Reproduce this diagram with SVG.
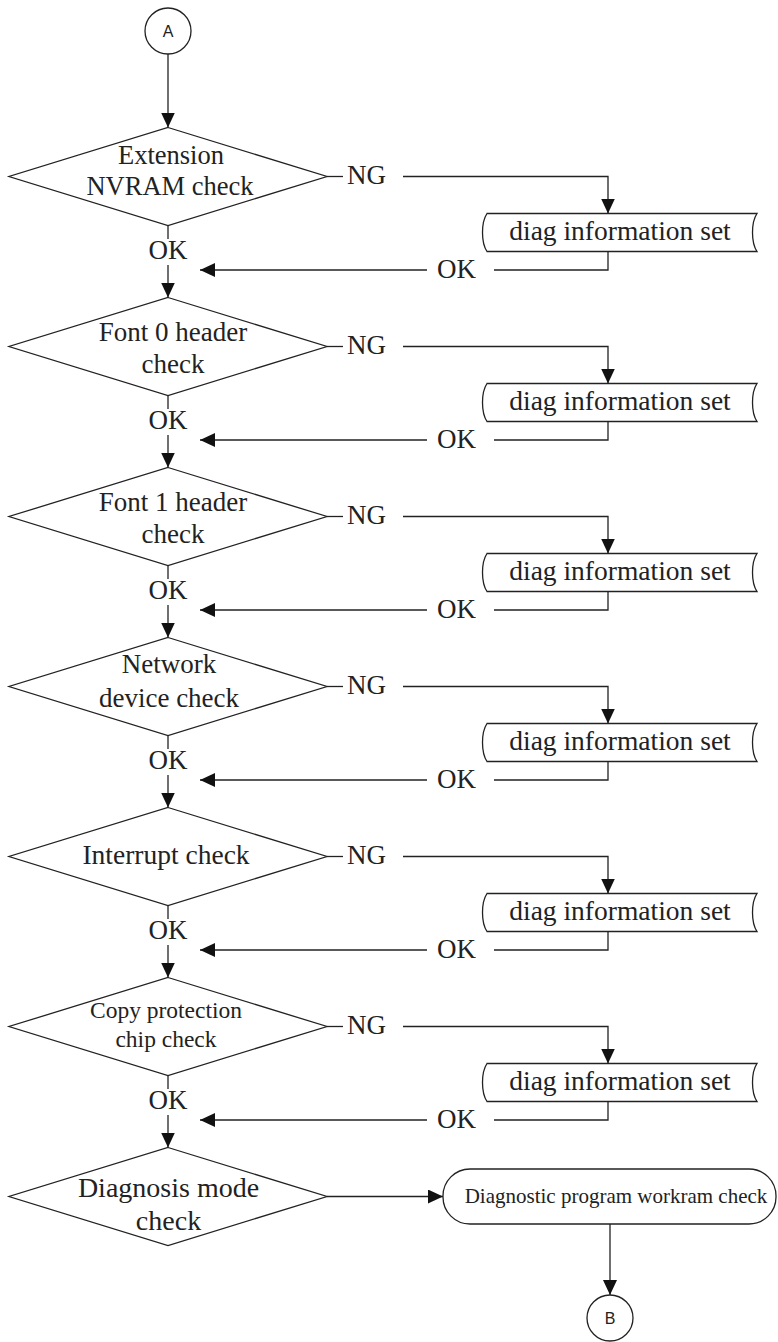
<svg xmlns="http://www.w3.org/2000/svg" width="778" height="1342" viewBox="0 0 778 1342">
<style>
.s{fill:none;stroke:#222;stroke-width:1.3}
.n{fill:#fff;stroke:#222;stroke-width:1.3}
.t{font-family:"Liberation Serif","Times New Roman",serif;fill:#222;text-anchor:middle}
.l{font-family:"Liberation Serif","Times New Roman",serif;font-size:27px;fill:#222}
.c{font-family:"Liberation Sans",Arial,sans-serif;font-size:16px;fill:#222;text-anchor:middle}
</style>
<defs>
<marker id="ar" markerUnits="userSpaceOnUse" markerWidth="16" markerHeight="14" refX="15" refY="7" orient="auto"><path d="M0,0 L15,7 L0,14 Z" fill="#111"/></marker>
</defs>
<rect width="778" height="1342" fill="#fff"/>
<g id="connectors">
<path class="s" d="M168,54 V127.5" marker-end="url(#ar)"/>
<path class="s" d="M327,176.5 H343"/>
<path class="s" d="M403,176.5 H608 V213.5" marker-end="url(#ar)"/>
<path class="s" d="M608,251.5 V270 H494"/>
<path class="s" d="M427,270 H200" marker-end="url(#ar)"/>
<path class="s" d="M168,225.5 V239"/>
<path class="s" d="M168,265 V297.5" marker-end="url(#ar)"/>
<path class="s" d="M327,346.5 H343"/>
<path class="s" d="M403,346.5 H608 V383.5" marker-end="url(#ar)"/>
<path class="s" d="M608,421.5 V440 H494"/>
<path class="s" d="M427,440 H200" marker-end="url(#ar)"/>
<path class="s" d="M168,395.5 V409"/>
<path class="s" d="M168,435 V467.5" marker-end="url(#ar)"/>
<path class="s" d="M327,516.5 H343"/>
<path class="s" d="M403,516.5 H608 V553.5" marker-end="url(#ar)"/>
<path class="s" d="M608,591.5 V610 H494"/>
<path class="s" d="M427,610 H200" marker-end="url(#ar)"/>
<path class="s" d="M168,565.5 V579"/>
<path class="s" d="M168,605 V637.5" marker-end="url(#ar)"/>
<path class="s" d="M327,686.5 H343"/>
<path class="s" d="M403,686.5 H608 V723.5" marker-end="url(#ar)"/>
<path class="s" d="M608,761.5 V780 H494"/>
<path class="s" d="M427,780 H200" marker-end="url(#ar)"/>
<path class="s" d="M168,735.5 V749"/>
<path class="s" d="M168,775 V807.5" marker-end="url(#ar)"/>
<path class="s" d="M327,856.5 H343"/>
<path class="s" d="M403,856.5 H608 V893.5" marker-end="url(#ar)"/>
<path class="s" d="M608,931.5 V950 H494"/>
<path class="s" d="M427,950 H200" marker-end="url(#ar)"/>
<path class="s" d="M168,905.5 V919"/>
<path class="s" d="M168,945 V977.5" marker-end="url(#ar)"/>
<path class="s" d="M327,1026.5 H343"/>
<path class="s" d="M403,1026.5 H608 V1063.5" marker-end="url(#ar)"/>
<path class="s" d="M608,1101.5 V1120 H494"/>
<path class="s" d="M427,1120 H200" marker-end="url(#ar)"/>
<path class="s" d="M168,1075.5 V1089"/>
<path class="s" d="M168,1115 V1147.5" marker-end="url(#ar)"/>
<path class="s" d="M327,1196.5 H443" marker-end="url(#ar)"/>
<path class="s" d="M610,1224 V1295" marker-end="url(#ar)"/>
<text class="l" x="347" y="184">NG</text>
<text class="l" x="347" y="354">NG</text>
<text class="l" x="347" y="524">NG</text>
<text class="l" x="347" y="694">NG</text>
<text class="l" x="347" y="864">NG</text>
<text class="l" x="347" y="1034">NG</text>
<text class="l" x="437" y="278">OK</text>
<text class="l" x="437" y="448">OK</text>
<text class="l" x="437" y="618">OK</text>
<text class="l" x="437" y="788">OK</text>
<text class="l" x="437" y="958">OK</text>
<text class="l" x="437" y="1128">OK</text>
<text class="t" x="168" y="259" style="font-size:27px">OK</text>
<text class="t" x="168" y="429" style="font-size:27px">OK</text>
<text class="t" x="168" y="599" style="font-size:27px">OK</text>
<text class="t" x="168" y="769" style="font-size:27px">OK</text>
<text class="t" x="168" y="939" style="font-size:27px">OK</text>
<text class="t" x="168" y="1109" style="font-size:27px">OK</text>
</g>
<g id="startA"><circle class="n" cx="168" cy="31" r="23"/><text class="c" x="168" y="37">A</text></g>
<g id="d1"><polygon class="n" points="168,127.5 327,176.5 168,225.5 9,176.5"/><text class="t" x="171" y="163.5" style="font-size:26.5px">Extension</text><text class="t" x="170" y="194.5" style="font-size:26.5px">NVRAM check</text></g>
<g id="d2"><polygon class="n" points="168,297.5 327,346.5 168,395.5 9,346.5"/><text class="t" x="173" y="341" style="font-size:27px">Font 0 header</text><text class="t" x="173" y="373" style="font-size:27px">check</text></g>
<g id="d3"><polygon class="n" points="168,467.5 327,516.5 168,565.5 9,516.5"/><text class="t" x="173" y="511" style="font-size:27px">Font 1 header</text><text class="t" x="173" y="543" style="font-size:27px">check</text></g>
<g id="d4"><polygon class="n" points="168,637.5 327,686.5 168,735.5 9,686.5"/><text class="t" x="169" y="673" style="font-size:27px">Network</text><text class="t" x="169" y="707" style="font-size:27px">device check</text></g>
<g id="d5"><polygon class="n" points="168,807.5 327,856.5 168,905.5 9,856.5"/><text class="t" x="166" y="864" style="font-size:27.5px">Interrupt check</text></g>
<g id="d6"><polygon class="n" points="168,977.5 327,1026.5 168,1075.5 9,1026.5"/><text class="t" x="166" y="1018" style="font-size:23.5px">Copy protection</text><text class="t" x="166" y="1047" style="font-size:23.5px">chip check</text></g>
<g id="d7"><polygon class="n" points="168,1147.5 327,1196.5 168,1245.5 9,1196.5"/><text class="t" x="168.5" y="1196.5" style="font-size:28px">Diagnosis mode</text><text class="t" x="168.5" y="1230" style="font-size:28px">check</text></g>
<g id="b1"><path class="n" d="M487,213.5 H757 C751,222.5 751,242.5 757,251.5 H487 C481,242.5 481,222.5 487,213.5 Z"/><text class="t" x="620" y="239.5" style="font-size:27.5px">diag information set</text></g>
<g id="b2"><path class="n" d="M487,383.5 H757 C751,392.5 751,412.5 757,421.5 H487 C481,412.5 481,392.5 487,383.5 Z"/><text class="t" x="620" y="409.5" style="font-size:27.5px">diag information set</text></g>
<g id="b3"><path class="n" d="M487,553.5 H757 C751,562.5 751,582.5 757,591.5 H487 C481,582.5 481,562.5 487,553.5 Z"/><text class="t" x="620" y="579.5" style="font-size:27.5px">diag information set</text></g>
<g id="b4"><path class="n" d="M487,723.5 H757 C751,732.5 751,752.5 757,761.5 H487 C481,752.5 481,732.5 487,723.5 Z"/><text class="t" x="620" y="749.5" style="font-size:27.5px">diag information set</text></g>
<g id="b5"><path class="n" d="M487,893.5 H757 C751,902.5 751,922.5 757,931.5 H487 C481,922.5 481,902.5 487,893.5 Z"/><text class="t" x="620" y="919.5" style="font-size:27.5px">diag information set</text></g>
<g id="b6"><path class="n" d="M487,1063.5 H757 C751,1072.5 751,1092.5 757,1101.5 H487 C481,1092.5 481,1072.5 487,1063.5 Z"/><text class="t" x="620" y="1089.5" style="font-size:27.5px">diag information set</text></g>
<g id="term"><rect class="n" x="443" y="1169" width="333" height="55" rx="27" ry="27"/><text class="t" x="616" y="1203" style="font-size:21px">Diagnostic program workram check</text></g>
<g id="endB"><circle class="n" cx="610" cy="1318" r="23"/><text class="c" x="610" y="1324">B</text></g>
</svg>
